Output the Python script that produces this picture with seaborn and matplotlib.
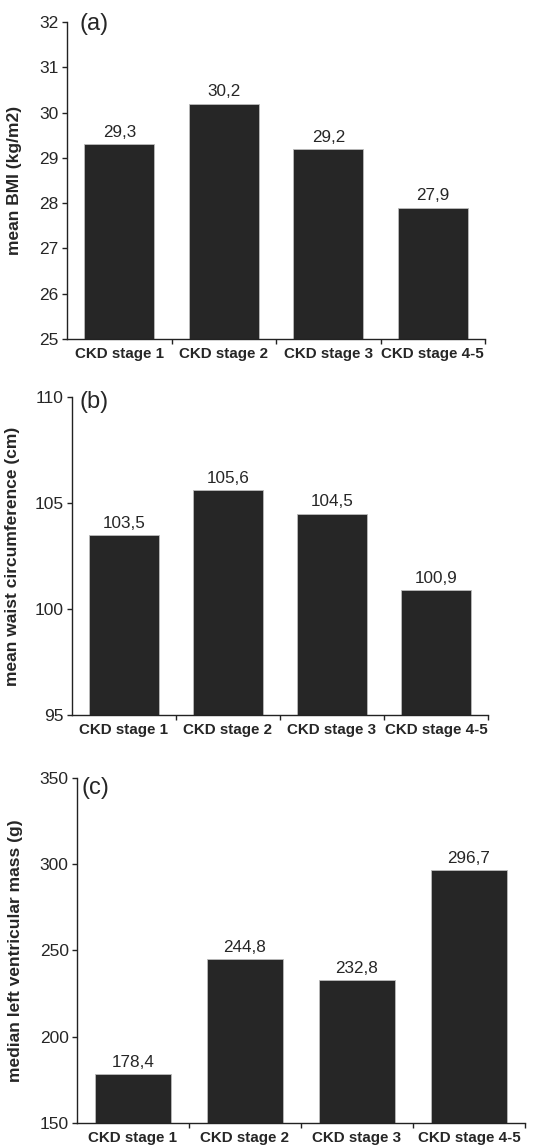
import matplotlib
matplotlib.use("Agg")
import matplotlib.pyplot as plt
import seaborn as sns
import pandas as pd

# 데이터
stages = ["CKD stage 1", "CKD stage 2", "CKD stage 3", "CKD stage 4-5"]
bmi = [29.3, 30.2, 29.2, 27.9]
waist = [103.5, 105.6, 104.5, 100.9]
lv_mass = [178.4, 244.8, 232.8, 296.7]

panels = [
    ("(a)", bmi, "mean BMI (kg/m2)", (25, 32), [25, 26, 27, 28, 29, 30, 31, 32]),
    ("(b)", waist, "mean waist circumference (cm)", (95, 110), [95, 100, 105, 110]),
    ("(c)", lv_mass, "median left ventricular mass (g)", (150, 350), [150, 200, 250, 300, 350]),
]

# 축 위치 (figure fraction), ylabel x 위치, 패널 라벨 위치
positions = [
    [0.1223, 0.7042, 0.7628, 0.2766],
    [0.1314, 0.3761, 0.7590, 0.2775],
    [0.1405, 0.0201, 0.8175, 0.3010],
]
ylabel_x = [-0.108, -0.125, -0.12]
tag_xy = [(0.029, 0.994), (0.017, 0.984), (0.011, 0.971)]

sns.set_style("ticks")
plt.rcParams["font.family"] = ["Liberation Sans", "DejaVu Sans"]

fig = plt.figure(figsize=(5.48, 11.46), dpi=100)

for (tag, vals, ylab, ylim, yticks), pos, lx, (tx, ty) in zip(panels, positions, ylabel_x, tag_xy):
    ax = fig.add_axes(pos)
    df = pd.DataFrame({"stage": stages, "value": vals})
    sns.barplot(data=df, x="stage", y="value", color="#262626",
                width=0.67, edgecolor="#bbbbbb", linewidth=0.6,
                saturation=1, ax=ax)
    ax.set_ylim(*ylim)
    ax.set_xlim(-0.5, 3.5)
    ax.set_yticks(yticks)
    ax.set_xticks(range(4))
    ax.set_xticks([0.5, 1.5, 2.5, 3.5], minor=True)
    ax.tick_params(axis="x", which="major", length=0, pad=5.5)
    ax.tick_params(axis="x", which="minor", length=3.5, width=1, color="#222222")
    ax.tick_params(axis="y", length=3.5, width=1, pad=2.5, labelsize=12.5, color="#222222")
    ax.set_xticklabels(stages, fontsize=10.9, fontweight="bold")
    ax.set_xlabel("")
    ax.set_ylabel(ylab, fontsize=12.5, fontweight="bold")
    ax.yaxis.set_label_coords(lx, 0.5)
    for s in ["top", "right"]:
        ax.spines[s].set_visible(False)
    for s in ["left", "bottom"]:
        ax.spines[s].set_linewidth(1)
        ax.spines[s].set_color("#222222")

    # 막대 위 값 라벨
    for i, v in enumerate(vals):
        ax.annotate(f"{v:.1f}".replace(".", ","), (i, v), xytext=(0, 3),
                    textcoords="offset points", ha="center", va="bottom",
                    fontsize=12.3)
    ax.text(tx, ty, tag, transform=ax.transAxes, ha="left", va="center",
            fontsize=17)

fig.savefig("out.png", dpi=100)
